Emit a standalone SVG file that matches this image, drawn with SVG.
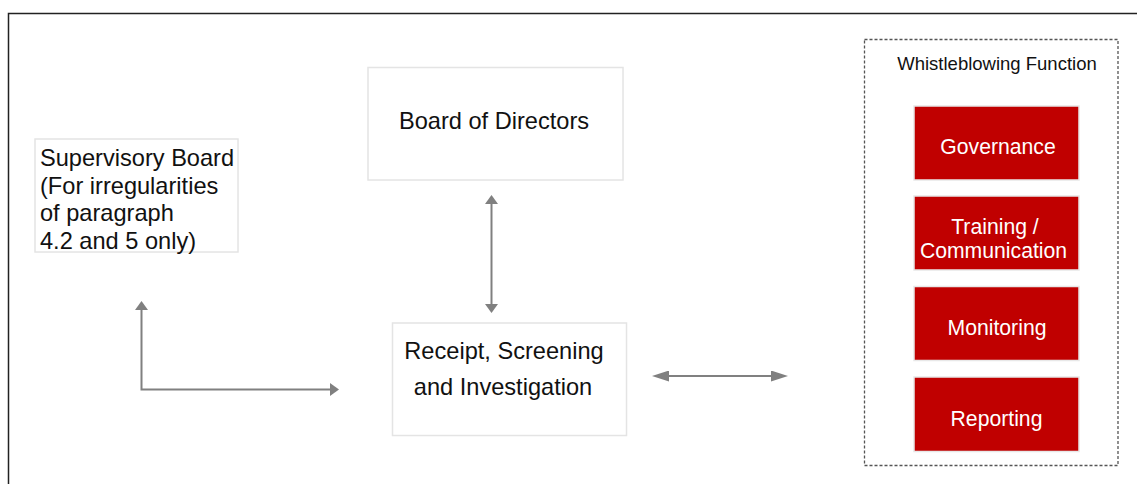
<svg xmlns="http://www.w3.org/2000/svg" width="1137" height="484" viewBox="0 0 1137 484">
<style>
text{font-family:"Liberation Sans",Arial,sans-serif;}
.box{fill:#fff;stroke:#e4e4e4;stroke-width:1.5;}
.red{fill:#c00000;stroke:#e8e8e8;stroke-width:1.5;}
.t{font-size:23.6px;fill:#111;}
.w{font-size:21.2px;fill:#fff;text-anchor:middle;}
.c{fill:none;stroke:#808080;stroke-width:2;}
</style>
<defs>
<marker id="hs" markerUnits="userSpaceOnUse" markerWidth="10" markerHeight="13" refX="0" refY="6.5" orient="auto-start-reverse" viewBox="0 0 10 13"><path d="M0,0 L9,6.5 L0,13 z" fill="#808080"/></marker>
<marker id="hl" markerUnits="userSpaceOnUse" markerWidth="18" markerHeight="11" refX="0" refY="5.5" orient="auto-start-reverse" viewBox="0 0 18 11"><path d="M0,0 L17,5.5 L0,11 z" fill="#808080"/></marker>
</defs>
<rect x="8.5" y="13.5" width="1140" height="480" fill="#fff" stroke="#222" stroke-width="1.5"/>
<g id="connectors">
<path class="c" d="M491.5,204 L491.5,304" marker-start="url(#hs)" marker-end="url(#hs)"/>
<path class="c" d="M141.5,310 L141.5,389.5 L330,389.5" marker-start="url(#hs)" marker-end="url(#hs)"/>
<path class="c" d="M669,376 L771,376" marker-start="url(#hl)" marker-end="url(#hl)"/>
</g>
<g id="supervisory-board">
<rect class="box" x="35" y="139" width="203" height="113"/>
<text class="t" x="40" y="166">Supervisory Board</text>
<text class="t" x="40" y="193.5">(For irregularities</text>
<text class="t" x="40" y="221">of paragraph</text>
<text class="t" x="40" y="248.5">4.2 and 5 only)</text>
</g>
<g id="board-of-directors">
<rect class="box" x="368" y="67.5" width="255" height="112.5"/>
<text class="t" x="494" y="128.5" text-anchor="middle">Board of Directors</text>
</g>
<g id="receipt">
<rect class="box" x="392.5" y="323" width="234" height="112.5"/>
<text class="t" x="504" y="358.5" text-anchor="middle">Receipt, Screening</text>
<text class="t" x="503" y="395" text-anchor="middle">and Investigation</text>
</g>
<g id="whistleblowing-function">
<rect x="864.5" y="39.5" width="253.5" height="426" fill="none" stroke="#555" stroke-width="1.3" stroke-dasharray="3,2"/>
<text x="997" y="70" font-size="18.5" fill="#111" text-anchor="middle">Whistleblowing Function</text>
</g>
<g id="governance">
<rect class="red" x="914" y="106" width="165" height="74"/>
<text class="w" x="998" y="154">Governance</text>
</g>
<g id="training">
<rect class="red" x="914" y="196" width="165" height="74"/>
<text class="w" x="995" y="233.5">Training /</text>
<text class="w" x="993.5" y="258">Communication</text>
</g>
<g id="monitoring">
<rect class="red" x="914" y="286.5" width="165" height="74"/>
<text class="w" x="997" y="335">Monitoring</text>
</g>
<g id="reporting">
<rect class="red" x="914" y="377" width="165" height="74.5"/>
<text class="w" x="996.5" y="426">Reporting</text>
</g>
</svg>
